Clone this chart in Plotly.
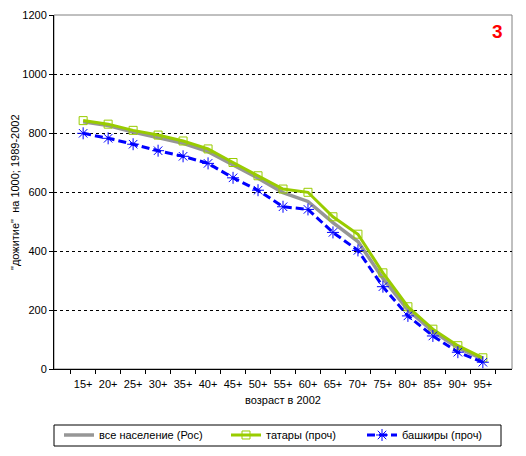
import plotly.graph_objects as go

categories = ["15+", "20+", "25+", "30+", "35+", "40+", "45+", "50+", "55+", "60+",
              "65+", "70+", "75+", "80+", "85+", "90+", "95+"]
all_pop = [838, 825, 803, 785, 765, 737, 693, 647, 598, 568,
           496, 432, 307, 200, 128, 72, 33]
tatars = [842, 830, 809, 793, 773, 746, 700, 655, 610, 599,
          516, 457, 326, 211, 135, 79, 38]
bashkirs = [799, 782, 762, 740, 721, 697, 648, 606, 550, 541,
            463, 402, 279, 180, 112, 57, 23]
y_ticks = [0, 200, 400, 600, 800, 1000, 1200]

FONT = "Liberation Sans, Arial, sans-serif"

fig = go.Figure()
fig.add_trace(go.Scatter(x=categories, y=all_pop, name="все население (Рос)", mode="lines",
                         line=dict(color="#969696", width=3.5), legend="legend"))
fig.add_trace(go.Scatter(x=categories, y=tatars, name="татары (проч)", mode="lines+markers",
                         line=dict(color="#99CC00", width=3),
                         marker=dict(symbol="square-open", size=8, color="#99CC00",
                                     line=dict(width=1, color="#99CC00")),
                         legend="legend2"))
fig.add_trace(go.Scatter(x=categories, y=bashkirs, name="башкиры (проч)", mode="lines+markers",
                         line=dict(color="#0000FF", width=3, dash="8px,4px"),
                         marker=dict(symbol="asterisk-open", size=10, color="#0000FF",
                                     line=dict(width=1, color="#0000FF")),
                         legend="legend3"))

def leg(px):
    return dict(orientation="h", x=(px - 54) / 458, xanchor="left", y=-0.1864, yanchor="middle",
                borderwidth=0, bgcolor="rgba(0,0,0,0)", font=dict(size=11, family=FONT),
                itemwidth=30)

fig.update_layout(
    width=526, height=456,
    margin=dict(l=54, r=14, t=15, b=87, autoexpand=False),
    paper_bgcolor="white", plot_bgcolor="white",
    font=dict(family=FONT, size=11, color="black"),
    showlegend=True,
    legend=leg(59),
    legend2=leg(226),
    legend3=leg(362),
    xaxis=dict(type="category", showline=True, linecolor="black", linewidth=1,
               ticks="outside", ticklen=4, tickcolor="black", tickson="boundaries",
               showgrid=False, tickfont=dict(size=11), tickangle=0, automargin=False,
               ticklabelstandoff=5,
               title=dict(text="возраст в 2002", font=dict(size=11), standoff=7)),
    yaxis=dict(range=[0, 1200], tickvals=y_ticks, showline=True, linecolor="black",
               linewidth=1, ticks="outside", ticklen=4, tickcolor="black",
               showgrid=True, gridcolor="black", gridwidth=1, griddash="3px,3px",
               zeroline=False, tickfont=dict(size=11), automargin=False),
    shapes=[dict(type="rect", xref="paper", yref="paper", x0=0, x1=1, y0=0, y1=1,
                 line=dict(color="#808080", width=1), layer="below"),
            dict(type="rect", xref="paper", yref="paper",
                 x0=0, x1=(501 - 54) / 458, y0=-(425 - 369) / 354, y1=-(446 - 369) / 354,
                 line=dict(color="black", width=1), layer="below")],
    annotations=[
        dict(text="<b>3</b>", xref="paper", yref="paper", x=(497 - 54) / 458, y=(369 - 31) / 354,
             xanchor="center", yanchor="middle",
             showarrow=False, font=dict(color="red", size=19, family=FONT)),
        dict(text='"дожитие"  на 1000; 1989-2002', xref="paper", yref="paper",
             x=(15 - 54) / 458, y=0.5, xanchor="center", yanchor="middle", textangle=-90,
             showarrow=False, font=dict(size=11, family=FONT)),
    ],
)

fig.write_html("out.html", post_script="document.body.style.margin='0';",
               config={"displayModeBar": False})
